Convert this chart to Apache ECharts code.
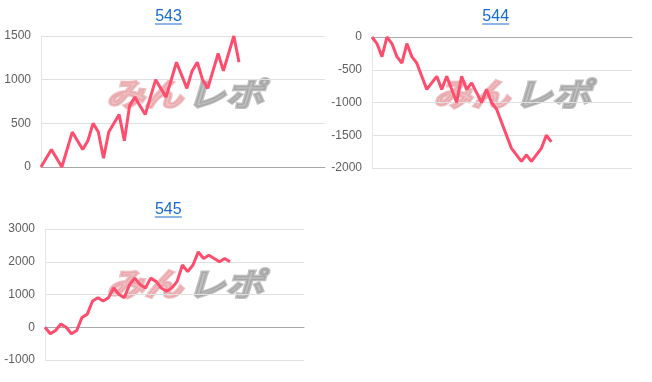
<!DOCTYPE html>
<html><head><meta charset="utf-8">
<script src="https://cdn.jsdelivr.net/npm/echarts@6/dist/echarts.min.js"></script>
<style>html,body{margin:0;padding:0;background:#fff}#c{width:652px;height:382px}</style>
</head><body><div id="c"></div>
<script>
// chart titles
const titles = ['543', '544', '545'];
// x positions (step index) and values of each series
const idx543 = [0,2,4,6,8,9,10,11,12,13,15,16,17,18,20,22,24,26,28,29,30,31,32,34,35,37,38];
const val543 = [0,200,0,400,200,300,500,400,100,400,600,300,700,800,600,1000,800,1200,900,1100,1200,1000,900,1300,1100,1500,1200];
const idx544 = [0,1,2,3,4,5,6,7,8,9,11,13,14,15,17,18,19,20,22,23,24,25,28,30,31,32,33,34,35,36];
const val544 = [0,-100,-300,0,-100,-300,-400,-100,-300,-400,-800,-600,-800,-600,-1000,-600,-800,-700,-1000,-800,-1000,-1100,-1700,-1900,-1800,-1900,-1800,-1700,-1500,-1600];
const idx545 = [0,1,2,3,4,5,6,7,8,9,10,11,12,13,14,15,16,17,18,19,20,21,22,23,24,25,26,27,28,29,30,31,32,33,34,35];
const val545 = [0,-200,-100,100,0,-200,-100,300,400,800,900,800,900,1200,1000,900,1300,1500,1300,1200,1500,1400,1200,1100,1200,1400,1900,1700,1900,2300,2100,2200,2100,2000,2100,2000];
// y-axis tick settings
const yMin = [0, -2000, -1000];
const yMax = [1500, 0, 3000];
const yStep = [500, 500, 1000];
const watermark = ['みん', 'レポ'];

const FONT = '"Liberation Sans", Arial, sans-serif';
const pairs = (a, b) => a.map((x, i) => [x, b[i]]);
const grids = [
  {left: 41, top: 36, width: 284, height: 131},
  {left: 372, top: 37, width: 260, height: 131},
  {left: 45, top: 229, width: 259, height: 131}
];
const xMax = [54.5, 52.2, 49];
const titlePos = [[168.5, 9], [495.7, 9], [168.3, 202]];
const wmPos = [[185, 94], [512, 94], [185, 284]];
const dataSets = [pairs(idx543, val543), pairs(idx544, val544), pairs(idx545, val545)];

const chart = echarts.init(document.getElementById('c'), null, {renderer: 'canvas'});
const graphic = [];
titlePos.forEach((p, i) => {
  graphic.push({type: 'text', z: 10, x: p[0], y: p[1], style: {text: titles[i], fill: '#1a6bd1', font: '16px ' + FONT, textAlign: 'center', textVerticalAlign: 'top'}});
  graphic.push({type: 'rect', z: 10, shape: {x: p[0] - 13.5, y: p[1] + 14.5, width: 27, height: 1}, style: {fill: '#1a6bd1'}});
});
wmPos.forEach(p => {
  graphic.push({type: 'text', z: -1, x: p[0] - 2, y: p[1], scaleX: 1.2, style: {text: watermark[0], fill: 'rgba(228,150,155,0.6)', stroke: 'rgba(228,150,155,0.6)', lineWidth: 2.5, font: 'italic bold 32px "Noto Sans CJK JP"', textAlign: 'right', textVerticalAlign: 'middle'}});
  graphic.push({type: 'text', z: -1, x: p[0] + 2, y: p[1], scaleX: 1.2, style: {text: watermark[1], fill: 'rgba(150,150,150,0.6)', stroke: 'rgba(150,150,150,0.6)', lineWidth: 2.5, font: 'italic bold 32px "Noto Sans CJK JP"', textAlign: 'left', textVerticalAlign: 'middle'}});
});

const option = {
  animation: false,
  grid: grids,
  graphic: graphic,
  xAxis: grids.map((g, i) => ({
    type: 'value', gridIndex: i, min: 0, max: xMax[i],
    axisLabel: {show: false}, axisTick: {show: false}, splitLine: {show: false},
    axisLine: {show: true, onZero: true, lineStyle: {color: '#a8a8a8', width: 1}}
  })),
  yAxis: grids.map((g, i) => ({
    type: 'value', gridIndex: i, min: yMin[i], max: yMax[i], interval: yStep[i],
    axisLine: {show: true, lineStyle: {color: '#e6e6e6'}}, axisTick: {show: false},
    splitLine: {lineStyle: {color: '#e0e0e0'}},
    axisLabel: {color: '#5e5e5e', fontSize: 12, fontFamily: FONT, margin: 10, formatter: v => String(v)}
  })),
  series: dataSets.map((d, i) => ({
    type: 'line', xAxisIndex: i, yAxisIndex: i, data: d, symbol: 'none', z: 5,
    lineStyle: {color: '#ff4d6d', width: 3}
  }))
};
chart.setOption(option);
</script></body></html>
